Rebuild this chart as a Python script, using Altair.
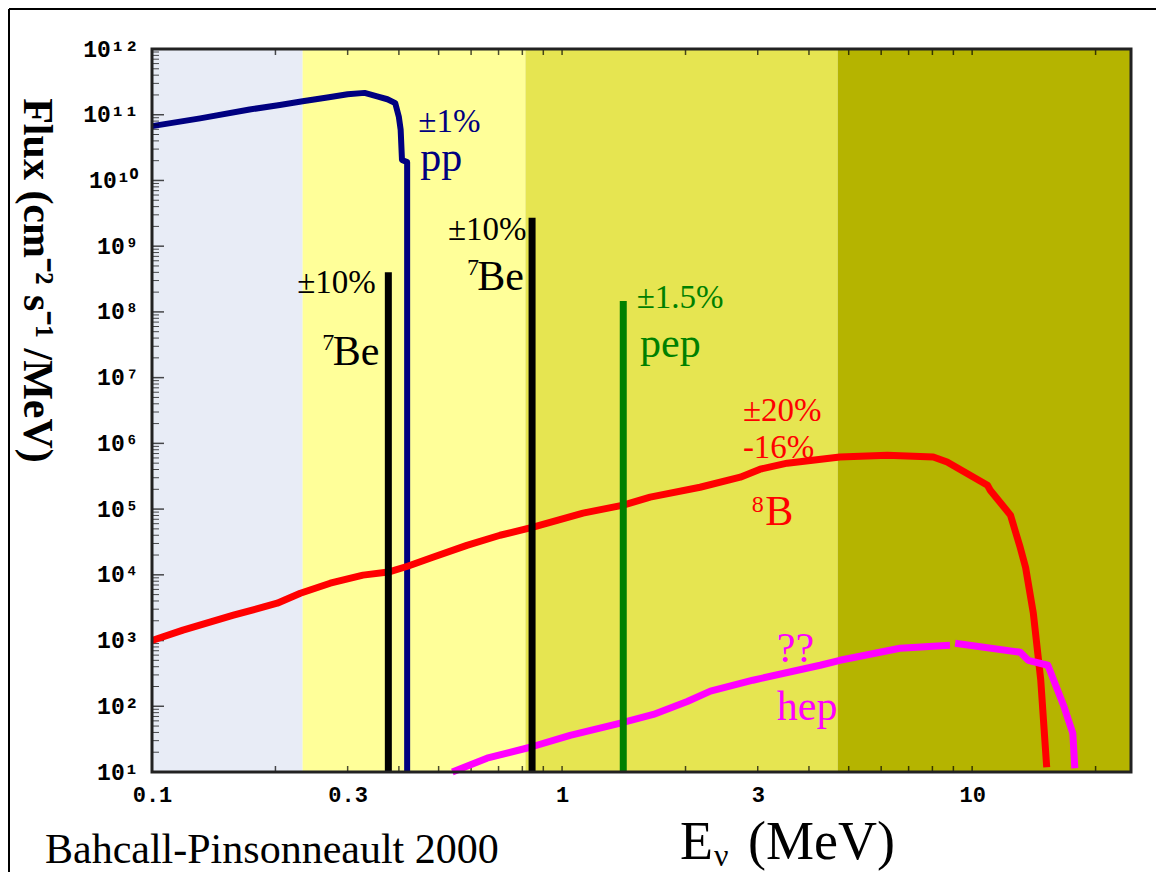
import json
import altair as alt
import pandas as pd

# ---------------- data ----------------
# pp continuum
pp_E = [0.100, 0.131, 0.173, 0.205, 0.233, 0.270, 0.300, 0.330, 0.354, 0.375, 0.392, 0.400, 0.404, 0.407, 0.419, 0.419]
pp_F = [6.7e10, 8.8e10, 1.2e11, 1.41e11, 1.6e11, 1.85e11, 2.05e11, 2.15e11, 1.9e11, 1.72e11, 1.5e11, 9.2e10, 5.9e10, 2.05e10, 1.9e10, 10]

# 8B continuum
b8_E = [0.100, 0.119, 0.158, 0.202, 0.230, 0.272, 0.327, 0.377, 0.420, 0.484, 0.586, 0.706, 0.850, 1.125, 1.41, 1.64,
        2.17, 2.72, 3.04, 3.54, 4.76, 6.21, 8.04, 8.69, 10.9, 11.07, 12.4, 13.1, 13.5, 14.1, 14.7, 15.2]
b8_F = [1.0e3, 1.44e3, 2.43e3, 3.7e3, 5.25e3, 7.45e3, 9.9e3, 1.1e4, 1.35e4, 1.85e4, 2.8e4, 4.0e4, 5.3e4, 8.7e4, 1.15e5, 1.52e5,
        2.15e5, 3.06e5, 4.05e5, 5.0e5, 6.2e5, 6.6e5, 6.2e5, 5.2e5, 2.3e5, 1.94e5, 8.1e4, 2.6e4, 1.3e4, 2.6e3, 249, 11.8]

# hep continuum (drawn in two pieces, as in the reference)
hep_E = [0.54, 0.656, 0.836, 1.046, 1.38, 1.67, 2.02, 2.30, 2.92, 4.26, 4.76, 6.67, 8.83,
         9.09, 13.1, 13.7, 15.3, 16.7, 17.6, 17.8]
hep_F = [10, 16.2, 23.8, 36, 55, 75, 118, 170, 249, 421, 501, 764, 848,
         910, 664, 501, 421, 104, 38.8, 11.4]
hep_part = [0] * 13 + [1] * 7

# monoenergetic lines
line_E = [0.377, 0.845, 1.41]
line_top = [4.0e8, 2.7e9, 1.46e8]
line_bottom = [10, 10, 10]
line_series = ["7Be", "7Be", "pep"]

# detector threshold bands
band_lo = [0.1, 0.233, 0.814, 4.7]
band_hi = [0.233, 0.814, 4.7, 24.4]
band_id = ["below Ga", "Ga", "Cl", "water"]

# annotations (energy, flux of the text's left baseline)
pct_text = ["±1%", "±10%", "±10%", "±1.5%", "±20%", "-16%"]
pct_series = ["pp", "7Be", "7Be", "pep", "8B", "8B"]
pct_E = [0.446, 0.226, 0.527, 1.52, 2.76, 2.76]
pct_F = [5.5e10, 1.93e8, 1.24e9, 1.14e8, 2.18e6, 5.96e5]

name_text = ["pp", "Be", "Be", "pep", "B", "??", "hep"]
name_series = ["pp", "7Be", "7Be", "pep", "8B", "hep", "hep"]
name_E = [0.451, 0.276, 0.621, 1.55, 3.13, 3.34, 3.34]
name_F = [1.4e10, 1.55e7, 2.15e8, 2.05e7, 5.7e4, 467, 61]

sup_text = ["7", "7", "8"]
sup_series = ["7Be", "7Be", "8B"]
sup_E = [0.260, 0.586, 2.90]
sup_F = [2.6e7, 3.6e8, 8.97e4]

# axes
x_label_values = [0.1, 0.3, 1, 3, 10]
x_tick_values = [m / 10 for m in range(2, 10)] + list(range(1, 10)) + [10, 20]
y_decades = [10 ** k for k in range(1, 13)]
y_minor = [m * 10 ** k for k in range(1, 12) for m in range(2, 10)]

series_domain = ["pp", "7Be", "pep", "8B", "hep"]
series_colors = ["#000080", "#000000", "#008000", "#FF0000", "#FF00FF"]
band_colors = ["#E8ECF6", "#FFFF99", "#E6E551", "#B5B400"]

# ---------------- tables ----------------
pp_df = pd.DataFrame({"E": pp_E, "F": pp_F, "i": range(len(pp_E))})
b8_df = pd.DataFrame({"E": b8_E, "F": b8_F, "i": range(len(b8_E))})
hep_df = pd.DataFrame({"E": hep_E, "F": hep_F, "i": range(len(hep_E)), "part": hep_part})
line_df = pd.DataFrame({"E": line_E, "top": line_top, "bottom": line_bottom, "s": line_series})
band_df = pd.DataFrame({"lo": band_lo, "hi": band_hi, "band": band_id})
pct_df = pd.DataFrame({"E": pct_E, "F": pct_F, "t": pct_text, "s": pct_series})
name_df = pd.DataFrame({"E": name_E, "F": name_F, "t": name_text, "s": name_series})
sup_df = pd.DataFrame({"E": sup_E, "F": sup_F, "t": sup_text, "s": sup_series})
ymaj_df = pd.DataFrame({"v": y_decades})
ymin_df = pd.DataFrame({"v": y_minor})
xt_df = pd.DataFrame({"v": x_tick_values})
one = pd.DataFrame({"k": [0]})

W, H = 979, 723
xs = alt.Scale(type="log", domain=[0.1, 24.4], nice=False)
ys = alt.Scale(type="log", domain=[10, 1e12], nice=False)
series_scale = alt.Scale(domain=series_domain, range=series_colors)

sups = ["⁰", "¹", "²", "³", "⁴", "⁵", "⁶", "⁷", "⁸", "⁹"]
exp_labels = ["10" + "".join(sups[int(d)] for d in str(k)) for k in range(0, 13)]
y_label_expr = json.dumps(exp_labels, ensure_ascii=False) + "[round(log(datum.value)/LN10)]"

ax_y_main = alt.Axis(orient="left", values=y_decades, labelExpr=y_label_expr, tickSize=0, domain=False, grid=False,
                     labelFont="Liberation Mono", labelFontWeight="bold", labelFontSize=23, labelColor="black",
                     labelPadding=14, labelFlush=False, labelOverlap=False, labelBound=False,
                     title="Flux  (cm⁻² s⁻¹ /MeV)", titleFont="Liberation Serif", titleFontSize=42,
                     titleFontWeight="bold", titleColor="black", titleAngle=90, titleX=-116, titleY=231,
                     titleAlign="center", titleBaseline="middle")
ax_x_main = alt.Axis(orient="bottom", values=x_label_values, format="~g", tickSize=0, domain=False, grid=False,
                     labelFont="Liberation Mono", labelFontWeight="bold", labelFontSize=22, labelColor="black",
                     labelPadding=12, labelFlush=False, labelOverlap=False, title=None)

bands = alt.Chart(band_df).mark_rect().encode(
    x=alt.X("lo:Q", scale=xs, axis=None),
    x2="hi:Q",
    y=alt.value(0),
    y2=alt.value("height"),
    fill=alt.Fill("band:N", scale=alt.Scale(domain=band_id, range=band_colors), legend=None),
)

# inward ticks, placed through the scales
y_major_ticks = alt.Chart(ymaj_df).mark_tick(orient="horizontal", size=12, thickness=1.5, color="black").encode(
    y=alt.Y("v:Q", scale=ys, axis=None), x=alt.value(6))
y_minor_ticks = alt.Chart(ymin_df).mark_tick(orient="horizontal", size=7, thickness=1, color="black").encode(
    y=alt.Y("v:Q", scale=ys, axis=None), x=alt.value(3.5))
x_bottom_ticks = alt.Chart(xt_df).mark_tick(orient="vertical", size=6, thickness=1.5, color="black").encode(
    x=alt.X("v:Q", scale=xs, axis=None), y=alt.value(H - 3))
x_top_ticks = alt.Chart(xt_df).mark_tick(orient="vertical", size=6, thickness=1.5, color="black").encode(
    x=alt.X("v:Q", scale=xs, axis=None), y=alt.value(3))

pp_line = alt.Chart(pp_df).mark_line(color="#000080", strokeWidth=6, strokeJoin="round").encode(
    x=alt.X("E:Q", scale=xs, axis=ax_x_main),
    y=alt.Y("F:Q", scale=ys, axis=ax_y_main),
    order="i:Q",
)

b8_line = alt.Chart(b8_df).mark_line(color="#FF0000", strokeWidth=7, strokeJoin="round").encode(
    x=alt.X("E:Q", scale=xs, axis=None),
    y=alt.Y("F:Q", scale=ys, axis=None),
    order="i:Q",
)

hep_line = alt.Chart(hep_df).mark_line(color="#FF00FF", strokeWidth=7, strokeJoin="round").encode(
    x=alt.X("E:Q", scale=xs, axis=None),
    y=alt.Y("F:Q", scale=ys, axis=None),
    order="i:Q",
    detail="part:N",
)

mono_lines = alt.Chart(line_df).mark_rule(strokeWidth=7).encode(
    x=alt.X("E:Q", scale=xs, axis=None),
    y=alt.Y("top:Q", scale=ys, axis=None),
    y2="bottom:Q",
    color=alt.Color("s:N", scale=series_scale, legend=None),
)


def label_layer(df, size):
    return alt.Chart(df).mark_text(align="left", baseline="alphabetic", font="Liberation Serif", fontSize=size).encode(
        x=alt.X("E:Q", scale=xs, axis=None),
        y=alt.Y("F:Q", scale=ys, axis=None),
        text="t:N",
        color=alt.Color("s:N", scale=series_scale, legend=None),
    )


pct_labels = label_layer(pct_df, 33)
name_labels = label_layer(name_df, 42)
sup_labels = label_layer(sup_df, 24)

frame = alt.Chart(one).mark_rect(fillOpacity=0, stroke="#222222", strokeWidth=3).encode(
    x=alt.value(0), x2=alt.value("width"), y=alt.value(0), y2=alt.value("height"))

page_left = alt.Chart(one).mark_rule(color="black", strokeWidth=2).encode(
    x=alt.value(-143), y=alt.value(-40), y2=alt.value(H + 100))
page_top = alt.Chart(one).mark_rule(color="black", strokeWidth=2).encode(
    x=alt.value(-143), x2=alt.value(W + 25), y=alt.value(-40))

x_title_E = alt.Chart(one).mark_text(text="E", align="left", baseline="alphabetic", font="Liberation Serif",
                                     fontSize=54, color="black").encode(x=alt.value(528), y=alt.value(810))
x_title_nu = alt.Chart(one).mark_text(text="ν", align="left", baseline="alphabetic", font="Liberation Serif",
                                      fontSize=32, color="black").encode(x=alt.value(562), y=alt.value(817))
x_title_unit = alt.Chart(one).mark_text(text="(MeV)", align="left", baseline="alphabetic", font="Liberation Serif",
                                        fontSize=54, color="black").encode(x=alt.value(596), y=alt.value(810))
credit = alt.Chart(one).mark_text(text="Bahcall-Pinsonneault 2000", align="left", baseline="alphabetic",
                                  font="Liberation Serif", fontSize=42, color="black").encode(
    x=alt.value(-107), y=alt.value(814))

chart = alt.layer(
    bands, pp_line, y_major_ticks, y_minor_ticks, x_bottom_ticks, x_top_ticks,
    b8_line, hep_line, mono_lines, pct_labels, name_labels, sup_labels,
    frame, page_left, page_top, x_title_E, x_title_nu, x_title_unit, credit,
).resolve_axis(x="independent", y="independent").properties(
    width=W, height=H,
    padding={"left": 144, "top": 41, "right": 25, "bottom": 100},
    autosize=alt.AutoSizeParams(type="none"),
    background="white",
).configure_view(strokeWidth=0)

chart.save("out.html", embed_options={"renderer": "svg", "actions": False})
